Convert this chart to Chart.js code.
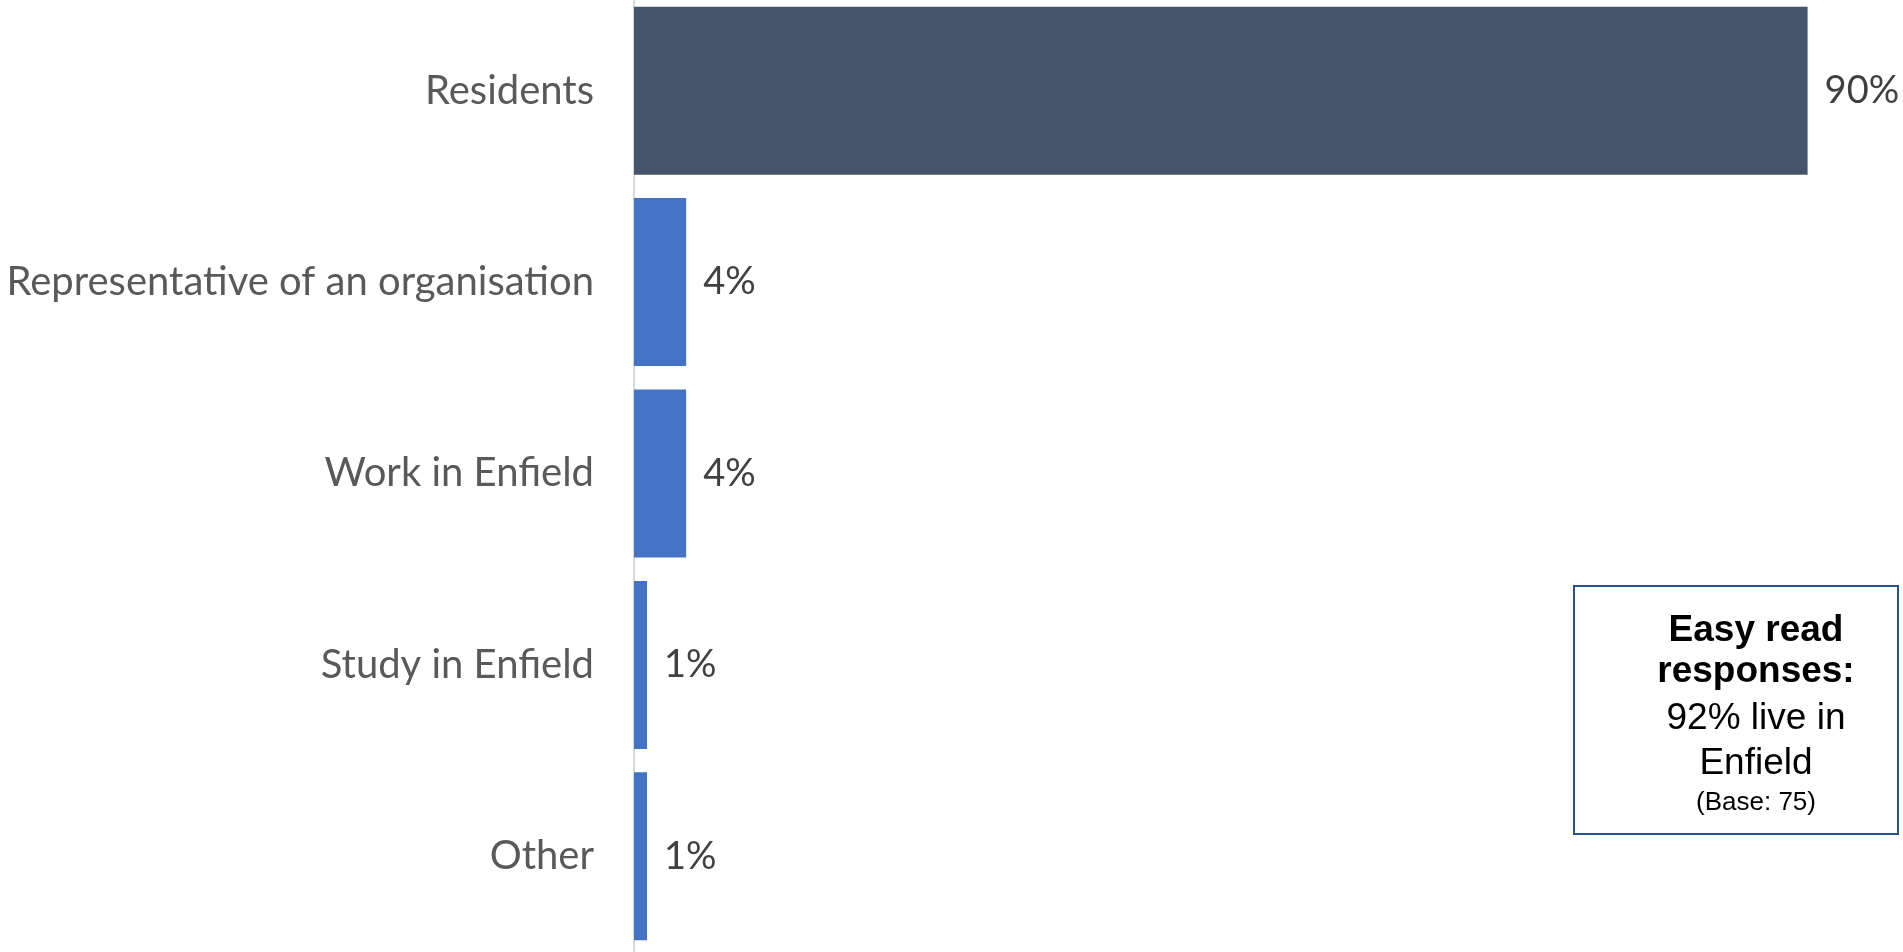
<!DOCTYPE html>
<html>
<head>
<meta charset="utf-8">
<script src="https://cdn.jsdelivr.net/npm/chart.js@4.4.1/dist/chart.umd.min.js"></script>
<style>
  html, body { margin: 0; padding: 0; background: #ffffff; overflow: hidden; }
  body { width: 1903px; height: 952px; position: relative; }
  #wrap { position: absolute; left: 0; top: -5px; width: 1938px; height: 957px; }
  #note {
    position: absolute; left: 1573px; top: 585px;
    width: 282px; height: 225.5px;
    padding: 20.5px 0 0 40px;
    border: 2px solid #2F528F;
    font-family: "Liberation Sans", Arial, sans-serif;
    color: #000000; text-align: center;
  }
  #note .big { font-size: 37px; line-height: 41px; }
  #note .bold { font-weight: bold; }
  #note .small { font-size: 26px; line-height: 34px; }
</style>
</head>
<body>
<div id="wrap"><canvas id="chart"></canvas></div>
<div id="note">
  <div class="big bold">Easy read</div>
  <div class="big bold">responses:</div>
  <div class="big" style="margin-top: 6.5px">92% live in</div>
  <div class="big" style="margin-top: 3.5px">Enfield</div>
  <div class="small" style="margin-top: 2px">(Base: 75)</div>
</div>
<script>
const categories = ['Residents', 'Representative of an organisation', 'Work in Enfield', 'Study in Enfield', 'Other'];
const shares = [90, 4, 4, 1, 1];
const barColors = ['#44546A', '#4472C4', '#4472C4', '#4472C4', '#4472C4'];

const labelFont = 'Lato, Carlito, Calibri, sans-serif';

// percentage text just past the end of each bar
const valueLabels = {
  id: 'valueLabels',
  afterDatasetsDraw(chart) {
    const ctx = chart.ctx;
    const meta = chart.getDatasetMeta(0);
    ctx.save();
    ctx.font = '38px ' + labelFont;
    ctx.fillStyle = '#404040';
    ctx.textAlign = 'left';
    ctx.textBaseline = 'middle';
    meta.data.forEach((bar, i) => {
      ctx.fillText(shares[i] + '%', bar.x + 17, bar.y);
    });
    ctx.restore();
  }
};

new Chart(document.getElementById('chart'), {
  type: 'bar',
  data: {
    labels: categories,
    datasets: [{
      data: shares,
      backgroundColor: barColors,
      borderWidth: 0,
      barPercentage: 0.878,
      categoryPercentage: 1
    }]
  },
  options: {
    indexAxis: 'y',
    responsive: true,
    maintainAspectRatio: false,
    animation: false,
    layout: { padding: 0 },
    plugins: {
      legend: { display: false },
      tooltip: { enabled: false }
    },
    scales: {
      x: {
        display: false,
        min: 0,
        max: 100
      },
      y: {
        // fixed gutter for the category names, no extra room above/below
        afterFit(scale) {
          scale.width = 634;
          scale.paddingTop = 0;
          scale.paddingBottom = 0;
        },
        grid: { display: false, drawTicks: false },
        border: { display: true, color: '#D9D9D9', width: 2 },
        ticks: {
          padding: 40,
          color: '#595959',
          font: { family: labelFont, size: 40 }
        }
      }
    }
  },
  plugins: [valueLabels]
});
</script>
</body>
</html>
